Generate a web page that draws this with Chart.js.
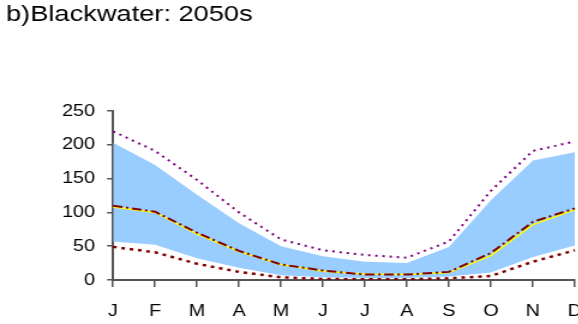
<!DOCTYPE html>
<html>
<head>
<meta charset="utf-8">
<script src="https://cdn.jsdelivr.net/npm/chart.js@4.4.1/dist/chart.umd.min.js"></script>
<style>
  html, body { margin: 0; padding: 0; background: #fff; overflow: hidden; }
  /* 原图横向略有拉伸 */
  #wrap { width: 500px; height: 324px; transform: scaleX(1.2); transform-origin: 0 0; }
</style>
</head>
<body>
<div id="wrap"><canvas id="flowChart" width="500" height="324"></canvas></div>
<script>
// 月份
const months = ['J', 'F', 'M', 'A', 'M', 'J', 'J', 'A', 'S', 'O', 'N', 'D'];
const yTicks = [0, 50, 100, 150, 200, 250];

// 范围带（上下限）
const bandUpper = [203, 170, 126, 84, 50, 35, 27, 25, 49, 118, 177, 189];
const bandLower = [57, 52, 32, 18, 7, 4, 3, 3, 5, 11, 34, 51];

// 极值虚线
const maxLine = [220, 191, 148, 100, 60, 44, 37, 33, 57, 132, 191, 205];
const minLine = [49, 41, 24, 12, 4, 1.5, 1, 1, 2.5, 6, 27, 44];

// 中值
const medianDashed = [110, 101, 70, 43, 23, 14, 8, 8, 12, 40, 86, 106];
const medianSolid = [108, 100, 68, 42, 23, 13, 9, 8, 11, 36, 82, 104];

const axisColor = '#555555';
const fontFamily = 'Liberation Sans, Arial, sans-serif';

const ctx = document.getElementById('flowChart').getContext('2d');

new Chart(ctx, {
  type: 'line',
  data: {
    labels: months,
    datasets: [
      {
        label: 'min',
        data: minLine,
        borderColor: '#800000',
        borderWidth: 2.5,
        borderDash: [3, 4],
        pointRadius: 0,
        fill: false,
        tension: 0
      },
      {
        label: 'max',
        data: maxLine,
        borderColor: '#800080',
        borderWidth: 2,
        borderDash: [2, 4],
        pointRadius: 0,
        fill: false,
        tension: 0
      },
      {
        label: 'median dashed',
        data: medianDashed,
        borderColor: '#800000',
        borderWidth: 2,
        borderDash: [8, 3, 2, 3],
        pointRadius: 0,
        fill: false,
        tension: 0
      },
      {
        label: 'median',
        data: medianSolid,
        borderColor: '#ffff00',
        borderWidth: 1.5,
        pointRadius: 0,
        fill: false,
        tension: 0
      },
      {
        label: 'upper',
        data: bandUpper,
        borderWidth: 0,
        borderColor: 'rgba(0,0,0,0)',
        backgroundColor: 'rgb(153, 204, 255)',
        pointRadius: 0,
        fill: '+1',
        tension: 0
      },
      {
        label: 'lower',
        data: bandLower,
        borderWidth: 0,
        borderColor: 'rgba(0,0,0,0)',
        pointRadius: 0,
        fill: false,
        tension: 0
      }
    ]
  },
  options: {
    responsive: false,
    animation: false,
    events: [],
    layout: {
      padding: { left: 5, right: 17.5, top: 0, bottom: 0 }
    },
    scales: {
      x: {
        offset: false,
        afterFit: function(scale) {
          scale.height = 44;
        },
        grid: {
          display: true,
          drawOnChartArea: false,
          drawTicks: true,
          tickLength: 7,
          color: axisColor,
          lineWidth: 1.5
        },
        border: { display: true, color: axisColor, width: 2 },
        ticks: {
          color: '#000',
          padding: 15,
          maxRotation: 0,
          autoSkip: false,
          font: { family: fontFamily, size: 16.5 }
        }
      },
      y: {
        min: 0,
        max: 250,
        afterBuildTicks: function(scale) {
          scale.ticks = yTicks.map(v => ({ value: v }));
        },
        afterFit: function(scale) {
          scale.width = 89.2;
        },
        grid: {
          display: true,
          drawOnChartArea: false,
          drawTicks: true,
          tickLength: 5,
          color: axisColor,
          lineWidth: 1.5
        },
        border: { display: true, color: axisColor, width: 2 },
        ticks: {
          color: '#000',
          padding: 10,
          font: { family: fontFamily, size: 16.5 }
        }
      }
    },
    plugins: {
      legend: { display: false },
      tooltip: { enabled: false },
      title: {
        display: true,
        text: 'b)Blackwater: 2050s',
        align: 'start',
        color: '#000',
        font: { family: fontFamily, size: 22.7, weight: 'normal' },
        padding: { top: 1, bottom: 82.8 }
      }
    }
  }
});
</script>
</body>
</html>
